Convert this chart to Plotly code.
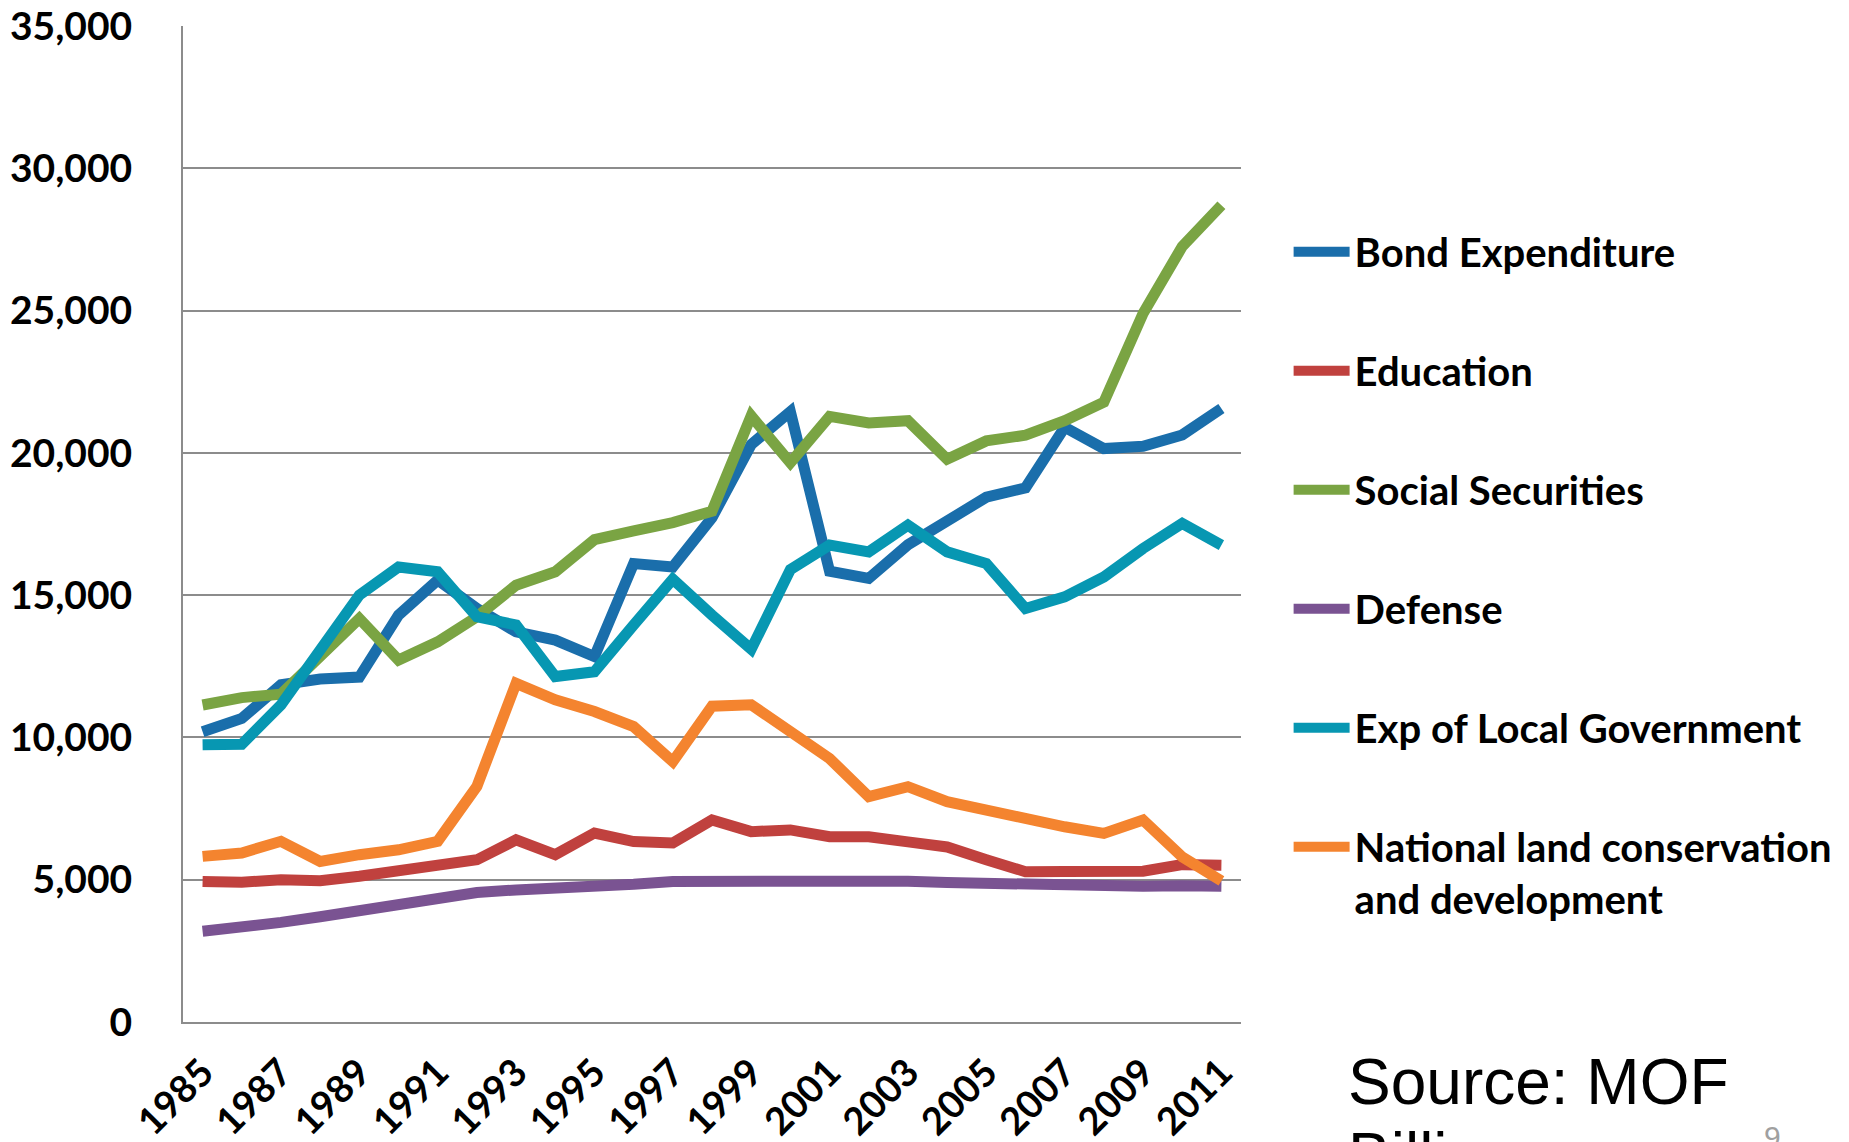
import plotly.graph_objects as go

# Fiscal years on the horizontal axis
years = list(range(1985, 2012))

# Expenditure by category (billion yen)
bond_expenditure = [10200, 10670, 11850, 12050, 12120, 14300, 15530, 14530, 13710, 13420,
                    12840, 16110, 15990, 17720, 20290, 21450, 15840, 15590, 16770, 17560,
                    18440, 18770, 20900, 20150, 20230, 20630, 21560]
education = [4940, 4910, 5000, 4965, 5120, 5320, 5470, 5700, 6400, 5880,
             6640, 6340, 6290, 7100, 6690, 6750, 6510, 6510, 6330, 6150,
             5700, 5280, 5290, 5300, 5300, 5530, 5510]
social_securities = [11140, 11400, 11520, 12850, 14180, 12720, 13360, 14240, 15350, 15820,
                     16950, 17260, 17550, 17950, 21300, 19650, 21280, 21050, 21130, 19780,
                     20420, 20620, 21130, 21780, 24900, 27250, 28700]
defense = [3190, 3320, 3500, 3700, 3920, 4170, 4390, 4550, 4640, 4680,
           4720, 4840, 4940, 4950, 4930, 4930, 4960, 4950, 4950, 4900,
           4860, 4810, 4800, 4780, 4770, 4790, 4770]
local_government = [9740, 9760, 11140, 13010, 15000, 15990, 15820, 14240, 13950, 12140,
                    12310, 13950, 15560, 14300, 13100, 15900, 16760, 16520, 17460, 16520,
                    16110, 14530, 14940, 15640, 16640, 17520, 16760]
national_land = [5820, 5940, 6350, 5640, 5880, 6050, 6350, 8280, 11900, 11320,
                 10910, 10380, 9150, 11100, 11150, 10260, 9260, 7920, 8270, 7740,
                 7450, 7100, 6860, 6630, 7100, 5800, 4960]

series_names = ["Bond Expenditure", "Education", "Social Securities", "Defense",
                "Exp of Local Government", "National land conservation<br>and development"]
series_values = [bond_expenditure, education, social_securities, defense,
                 local_government, national_land]
series_colors = ["#1A6EAB", "#C0413E", "#7AA443", "#7A5392", "#0797B2", "#F4842F"]

tick_years = years[::2]
y_ticks = list(range(0, 35001, 5000))

FONT = "Lato"
GRID = "#8C8C8C"

# plot area in pixels
W, H = 1849, 1142
ML, MR, MT, MB = 183, 608, 26, 120
PW, PH = W - ML - MR, H - MT - MB

fig = go.Figure()
for i, (name, vals, col) in enumerate(zip(series_names, series_values, series_colors)):
    fig.add_trace(go.Scatter(
        x=years, y=vals, name=name, mode="lines",
        line=dict(color=col, width=11),
        legendgroup=f"g{i}",
    ))

fig.update_layout(
    width=W, height=H,
    margin=dict(l=ML, r=MR, t=MT, b=MB, autoexpand=False),
    plot_bgcolor="white", paper_bgcolor="white",
    font=dict(family=FONT, color="black"),
    showlegend=True,
    legend=dict(
        x=1.045, xanchor="left", y=0.806, yanchor="top",
        font=dict(family=FONT, size=40, weight="bold", color="black"),
        tracegroupgap=64, valign="top", bgcolor="rgba(0,0,0,0)",
        itemwidth=56,
    ),
    xaxis=dict(
        range=[1984.5, 2011.5], tickmode="array", tickvals=tick_years,
        ticktext=[str(y) for y in tick_years], tickangle=-45,
        showgrid=False, zeroline=False, showline=True, linecolor=GRID, linewidth=2,
        ticks="", ticklabelstandoff=11,
        tickfont=dict(family=FONT, size=38, weight="bold", color="black"),
    ),
    yaxis=dict(
        range=[0, 35000], tickmode="array", tickvals=y_ticks,
        ticktext=[f"{v:,}" for v in y_ticks],
        showgrid=True, gridcolor=GRID, gridwidth=2,
        zeroline=False, showline=True, linecolor=GRID, linewidth=2,
        ticks="", ticklabelstandoff=41,
        tickfont=dict(family=FONT, size=39, weight="bold", color="black"),
    ),
)


def px_to_paper(x, y):
    return (x - ML) / PW, (H - MB - y) / PH


# Source note, unit line and page number at the lower right
for text, x, y, size, color in [
    ("Source: MOF", 1346, 1044, 64, "black"),
    ("Billion", 1346, 1118, 64, "black"),
    ("9", 1762, 1118, 30, "#A0A0A0"),
]:
    px, py = px_to_paper(x, y)
    fig.add_annotation(
        x=px, y=py, xref="paper", yref="paper", text=text,
        showarrow=False, xanchor="left", yanchor="top", align="left",
        font=dict(family="Liberation Sans", size=size, color=color),
    )

fig.write_html("out.html")
